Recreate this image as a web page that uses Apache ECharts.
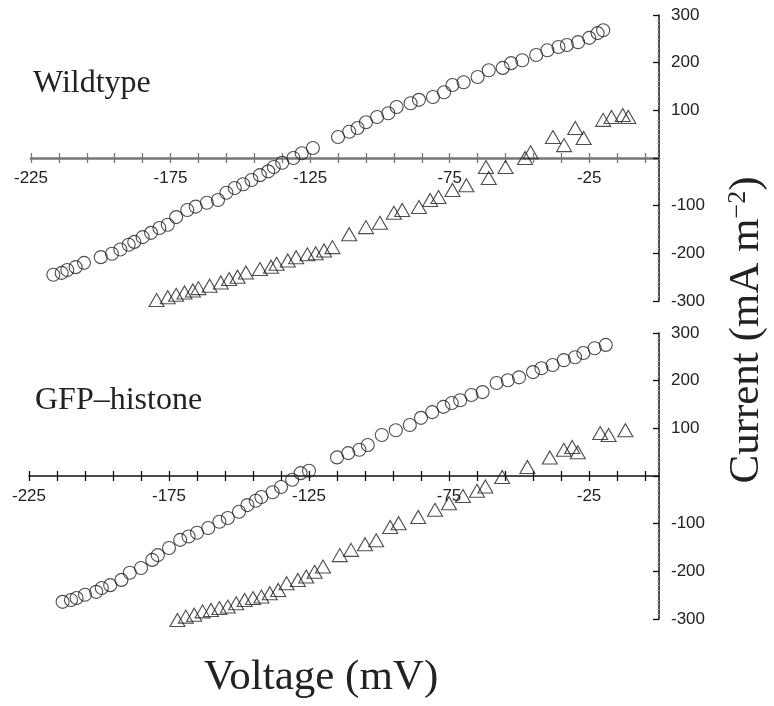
<!DOCTYPE html>
<html>
<head>
<meta charset="utf-8">
<script src="https://cdn.jsdelivr.net/npm/echarts@6/dist/echarts.min.js"></script>
<style>
  html, body { margin: 0; padding: 0; background: #fff; }
  #chart { width: 774px; height: 706px; }
</style>
</head>
<body>
<div id="chart"></div>
<script>
// voltage (mV) / current (mA m-2)
const wtCircleV = [-217, -214, -212, -209, -206, -200, -196, -193, -190, -188, -185, -182, -179, -176, -173, -169, -166, -162, -158, -155, -152, -149, -146, -143, -140, -138, -135, -131, -128, -124, -115, -111, -108, -105, -101, -97, -94, -89, -86, -81, -77, -74, -70, -65, -61, -56, -53, -49, -44, -40, -36, -33, -29, -25, -22, -20]
const wtCircleI = [-245, -241, -235, -229, -220, -208, -201, -192, -182, -176, -166, -157, -147, -140, -124, -109, -102, -94, -88, -73, -63, -55, -46, -36, -28, -19, -10, 0, 10, 21, 44, 55, 63, 75, 86, 94, 107, 115, 122, 128, 138, 153, 159, 170, 184, 189, 199, 205, 216, 226, 233, 237, 243, 252, 262, 268]

const wtTriV = [-180, -176, -173, -170, -167, -165, -161, -157, -154, -151, -148, -143, -139, -137, -133, -130, -126, -123, -120, -117, -111, -105, -100, -95, -92, -86, -82, -79, -74, -69, -62, -61, -55, -48, -46, -38, -34, -30, -27, -20, -17, -13, -11]
const wtTriI = [-298, -292, -287, -282, -278, -273, -268, -261, -254, -249, -240, -233, -228, -222, -215, -208, -202, -200, -194, -187, -160, -145, -136, -115, -109, -103, -88, -82, -67, -57, -19, -42, -19, 0, 12, 44, 27, 63, 42, 80, 86, 90, 86]

const gfpCircleV = [-213, -210, -208, -205, -201, -199, -196, -192, -189, -185, -181, -179, -175, -171, -168, -165, -161, -157, -154, -150, -147, -144, -142, -138, -135, -131, -128, -125, -115, -111, -107, -104, -99, -94, -89, -85, -81, -77, -74, -71, -67, -63, -58, -54, -50, -45, -42, -38, -34, -30, -27, -23, -19]
const gfpCircleI = [-264, -260, -256, -249, -243, -235, -229, -218, -203, -193, -176, -166, -151, -134, -127, -119, -109, -96, -88, -75, -61, -52, -44, -34, -23, -8, 6, 11, 39, 48, 55, 65, 86, 96, 107, 122, 134, 145, 153, 159, 170, 176, 195, 201, 207, 218, 226, 233, 243, 249, 258, 268, 275]

const gfpTriV = [-172, -169, -166, -163, -160, -157, -154, -151, -148, -145, -142, -139, -136, -133, -129, -126, -123, -120, -114, -110, -105, -101, -96, -93, -86, -80, -75, -70, -65, -62, -56, -47, -39, -34, -31, -29, -21, -18, -12]
const gfpTriI = [-302, -295, -291, -284, -281, -277, -274, -267, -260, -256, -253, -246, -239, -225, -218, -211, -201, -190, -166, -155, -143, -135, -107, -99, -86, -71, -57, -42, -31, -22, -2, 19, 39, 55, 61, 50, 90, 86, 96]

// tick labels
const xTickValues = [-225, -215, -205, -195, -185, -175, -165, -155, -145, -135, -125, -115, -105, -95, -85, -75, -65, -55, -45, -35, -25, -15, -5]
const xLabelValues = [-225, -175, -125, -75, -25]
const yLabelValues = [300, 200, 100, -100, -200, -300]

const numFont = '"Liberation Sans", Arial, Helvetica, sans-serif'
const serifFont = '"Liberation Serif", "Times New Roman", serif'

const panelHeight = 286

function pairs (xs, ys) {
  return xs.map((x, i) => [x, ys[i]])
}

// x axis pair for one panel, both moved up to the zero line (y range is symmetric):
// main one carries line, ticks down and labels, second one only draws ticks upward
function xAxesFor (g, lineColor, lineWidth) {
  const tickStyle = { color: lineColor, width: 1.3 }
  return [
    {
      gridIndex: g,
      type: 'value',
      min: -225,
      max: 0,
      position: 'bottom',
      offset: -panelHeight / 2,
      axisLine: { onZero: false, lineStyle: { color: lineColor, width: lineWidth } },
      axisTick: { customValues: xTickValues, length: 5, lineStyle: tickStyle },
      axisLabel: { customValues: xLabelValues, margin: 12, fontSize: 17, fontFamily: numFont, color: '#222' },
      splitLine: { show: false }
    },
    {
      gridIndex: g,
      type: 'value',
      min: -225,
      max: 0,
      position: 'top',
      offset: -panelHeight / 2,
      axisLine: { show: false, onZero: false },
      axisTick: { customValues: xTickValues, length: 5, lineStyle: tickStyle },
      axisLabel: { show: false },
      splitLine: { show: false }
    }
  ]
}

function yAxisFor (g) {
  return {
    gridIndex: g,
    type: 'value',
    min: -300,
    max: 300,
    interval: 100,
    position: 'right',
    axisLine: { onZero: false, lineStyle: { color: '#111', width: 1.5 } },
    axisTick: { inside: true, length: 6, lineStyle: { color: '#111', width: 1.3 } },
    minorTick: { show: true, splitNumber: 10, length: 2, lineStyle: { color: '#bbb' } },
    axisLabel: { customValues: yLabelValues, margin: 12, fontSize: 17, fontFamily: numFont, color: '#222' },
    splitLine: { show: false }
  }
}

function scatter (data, symbol, size, xi, yi) {
  return {
    type: 'scatter',
    xAxisIndex: xi,
    yAxisIndex: yi,
    data: data,
    symbol: symbol,
    symbolSize: size,
    clip: false,
    silent: true,
    itemStyle: { color: 'rgba(0,0,0,0)', borderColor: '#222', borderWidth: 1.1 }
  }
}

const chart = echarts.init(document.getElementById('chart'), null, { renderer: 'canvas' })

chart.setOption({
  animation: false,
  backgroundColor: '#fff',
  grid: [
    { left: 31, width: 628, top: 15, height: panelHeight },
    { left: 29, width: 630, top: 333, height: panelHeight }
  ],
  xAxis: [].concat(xAxesFor(0, '#777', 2.5), xAxesFor(1, '#111', 1.5)),
  yAxis: [yAxisFor(0), yAxisFor(1)],
  series: [
    scatter(pairs(wtCircleV, wtCircleI), 'circle', 13, 0, 0),
    scatter(pairs(wtTriV, wtTriI), 'triangle', [15, 13], 0, 0),
    scatter(pairs(gfpCircleV, gfpCircleI), 'circle', 13, 2, 1),
    scatter(pairs(gfpTriV, gfpTriI), 'triangle', [15, 13], 2, 1)
  ],
  graphic: [
    {
      type: 'text', x: 33, y: 84,
      style: { text: 'Wildtype', font: '32px ' + serifFont, fill: '#222', align: 'left', verticalAlign: 'middle', textAlign: 'left', textVerticalAlign: 'middle' }
    },
    {
      type: 'text', x: 35, y: 401,
      style: { text: 'GFP–histone', font: '32px ' + serifFont, fill: '#222', align: 'left', verticalAlign: 'middle', textAlign: 'left', textVerticalAlign: 'middle' }
    },
    {
      type: 'text', x: 321, y: 678,
      style: { text: 'Voltage (mV)', font: '43px ' + serifFont, fill: '#222', align: 'center', verticalAlign: 'middle', textAlign: 'center', textVerticalAlign: 'middle' }
    },
    {
      type: 'text', x: 747, y: 330, rotation: Math.PI / 2,
      style: {
        text: '{a|Current (mA m}{s|−2}{a|)}',
        fill: '#222',
        align: 'center',
        verticalAlign: 'middle',
        textAlign: 'center',
        textVerticalAlign: 'middle',
        rich: {
          a: { font: '43px ' + serifFont, fill: '#222' },
          s: { font: '26px ' + serifFont, fill: '#222', verticalAlign: 'top' }
        }
      }
    }
  ]
})
</script>
</body>
</html>
